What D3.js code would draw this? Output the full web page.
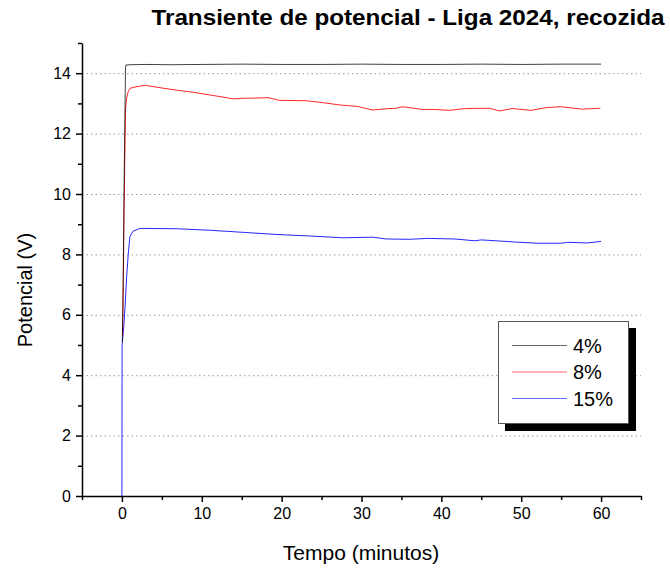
<!DOCTYPE html>
<html>
<head>
<meta charset="utf-8">
<script src="https://cdn.jsdelivr.net/npm/d3@7"></script>
<style>
  body { margin: 0; background: #fff; }
  text { font-family: "Liberation Sans", Arial, sans-serif; }
</style>
</head>
<body>
<div id="chart"></div>
<script>
// series: time in minutes, potential in volts
const labels = ["4%", "8%", "15%"];
const colors = ["#000000", "#ff0000", "#0000ff"];

const t4 = [0.05, 0.15, 0.3, 0.45, 0.5, 1, 3, 6, 10, 15, 20, 25, 30, 35, 40, 45, 50, 55, 60];
const v4 = [5.1, 7.0, 11.0, 14.2, 14.27, 14.28, 14.29, 14.28, 14.29, 14.3, 14.29, 14.29, 14.3, 14.29, 14.29, 14.3, 14.29, 14.3, 14.3];

const t8 = [0.08, 0.15, 0.25, 0.35, 0.45, 0.58, 0.8, 1.0, 1.8, 2.9, 4.75, 6.8, 8.9, 11, 13.1, 13.9, 15.2, 17.25, 18.3, 19.75, 23, 25, 27.25, 29.5, 31.4, 33, 34.4, 35.1, 36, 37.6, 39, 41, 43, 46, 47.25, 48.9, 51.2, 53.1, 55, 57.6, 59.9];
const v8 = [5.3, 6.5, 9.0, 11.0, 12.8, 13.17, 13.4, 13.5, 13.55, 13.6, 13.52, 13.44, 13.37, 13.28, 13.19, 13.15, 13.17, 13.18, 13.19, 13.1, 13.09, 13.03, 12.95, 12.9, 12.78, 12.82, 12.84, 12.89, 12.86, 12.8, 12.8, 12.77, 12.83, 12.84, 12.75, 12.83, 12.77, 12.86, 12.89, 12.81, 12.84];

const t15 = [0, 0.02, 0.2, 0.4, 0.6, 0.79, 1.0, 1.4, 2.25, 6.8, 11, 15.2, 19.3, 23.5, 27.7, 31.4, 33.1, 36, 38.3, 41.7, 44.2, 45, 47.5, 49.2, 52.1, 55, 55.8, 58.3, 60];
const v15 = [0, 5.0, 5.5, 6.3, 7.3, 8.0, 8.59, 8.77, 8.86, 8.85, 8.8, 8.73, 8.66, 8.61, 8.55, 8.57, 8.51, 8.5, 8.53, 8.51, 8.45, 8.48, 8.44, 8.41, 8.37, 8.37, 8.4, 8.38, 8.43];

const xMajor = [0, 10, 20, 30, 40, 50, 60];
const xMinor = [-5, 5, 15, 25, 35, 45, 55, 65];
const yMajor = [0, 2, 4, 6, 8, 10, 12, 14];
const yMinor = [1, 3, 5, 7, 9, 11, 13, 15];

document.addEventListener("DOMContentLoaded", () => {

    const width = 670;
    const height = 571;

    const x = d3.scaleLinear().domain([-5, 65]).range([82, 641]);
    const y = d3.scaleLinear().domain([0, 15]).range([496, 43]);

    const svg = d3.create("svg")
        .attr("width", width)
        .attr("height", height)
        .attr("viewBox", [0, 0, width, height]);

    // dotted grid at the labelled y ticks, drawn as a tick-less axis
    svg.append("g")
        .attr("class", "grid")
        .attr("transform", `translate(${x(-5)},0)`)
        .call(d3.axisRight(y).tickValues(yMajor.slice(1)).tickSize(x(65) - x(-5)).tickFormat(""))
        .call(g => g.select(".domain").remove())
        .call(g => g.selectAll(".tick line")
            .attr("stroke", "#999")
            .attr("stroke-width", 1)
            .attr("stroke-dasharray", "1.5,3"));

    const series = [[t4, v4], [t8, v8], [t15, v15]];

    const line = d3.line()
        .x(d => x(d[0]))
        .y(d => y(d[1]));

    // draw 15% first so the others sit over it, as in the original
    [2, 1, 0].forEach(i => {
        const [ts, vs] = series[i];
        svg.append("path")
            .datum(ts.map((t, j) => [t, vs[j]]))
            .attr("fill", "none")
            .attr("stroke", colors[i])
            .attr("stroke-opacity", i == 0 ? 0.75 : 0.85)
            .attr("stroke-width", 1)
            .attr("d", line);
    });

    // axes, major and minor ticks
    const styleAxis = g => {
        g.selectAll("path, line").attr("stroke", "#000").attr("stroke-width", 1.5);
        g.selectAll("text")
            .attr("font-size", 16)
            .attr("font-family", "'Liberation Sans', Arial, sans-serif")
            .attr("fill", "#000");
    };

    svg.append("g")
        .attr("transform", `translate(0,${y(0)})`)
        .call(d3.axisBottom(x).tickValues(xMajor).tickSize(6).tickSizeOuter(0).tickPadding(6))
        .call(styleAxis);
    svg.append("g")
        .attr("transform", `translate(0,${y(0)})`)
        .call(d3.axisBottom(x).tickValues(xMinor).tickSize(4).tickFormat(""))
        .call(g => g.select(".domain").remove())
        .call(styleAxis);

    svg.append("g")
        .attr("transform", `translate(${x(-5)},0)`)
        .call(d3.axisLeft(y).tickValues(yMajor).tickSize(6).tickSizeOuter(0).tickPadding(5))
        .call(styleAxis);
    svg.append("g")
        .attr("transform", `translate(${x(-5)},0)`)
        .call(d3.axisLeft(y).tickValues(yMinor).tickSize(4).tickFormat(""))
        .call(g => g.select(".domain").remove())
        .call(styleAxis);

    // titles
    svg.append("text")
        .attr("x", 408)
        .attr("y", 25)
        .attr("text-anchor", "middle")
        .attr("font-size", 22)
        .attr("font-weight", "bold")
        .attr("textLength", 513)
        .attr("lengthAdjust", "spacingAndGlyphs")
        .text("Transiente de potencial - Liga 2024, recozida");

    svg.append("text")
        .attr("x", 361)
        .attr("y", 560)
        .attr("text-anchor", "middle")
        .attr("font-size", 21)
        .text("Tempo (minutos)");

    svg.append("text")
        .attr("transform", "translate(32,290) rotate(-90)")
        .attr("text-anchor", "middle")
        .attr("font-size", 20)
        .text("Potencial (V)");

    // legend with drop shadow
    const legend = svg.append("g");
    legend.append("rect")
        .attr("x", 505).attr("y", 328)
        .attr("width", 131).attr("height", 103)
        .attr("fill", "#000");
    legend.append("rect")
        .attr("x", 498.5).attr("y", 321.5)
        .attr("width", 130).attr("height", 102)
        .attr("fill", "#fff")
        .attr("stroke", "#555")
        .attr("stroke-width", 1);

    const rows = legend.selectAll("g.row")
        .data(labels)
        .join("g")
            .attr("class", "row")
            .attr("transform", (d, i) => `translate(0,${345.5 + i * 26.5})`);
    rows.append("line")
        .attr("x1", 512).attr("x2", 567)
        .attr("stroke", (d, i) => colors[i])
        .attr("stroke-opacity", 0.6)
        .attr("stroke-width", 1);
    rows.append("text")
        .attr("x", 573)
        .attr("y", 7)
        .attr("font-size", 20)
        .text(d => d);

    chart.append(svg.node());
});
</script>
</body>
</html>
